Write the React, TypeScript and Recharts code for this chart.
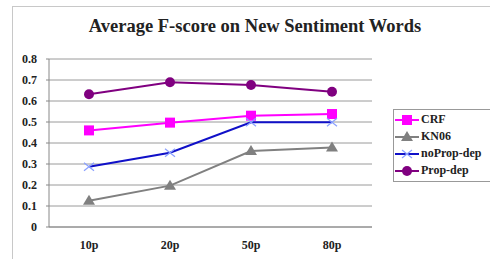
import React from 'react';
import { LineChart, Line, XAxis, YAxis, CartesianGrid } from 'recharts';

const categories = ['10p', '20p', '50p', '80p'];
const crf = [0.46, 0.497, 0.53, 0.538];
const kn06 = [0.125, 0.197, 0.362, 0.378];
const noPropDep = [0.287, 0.354, 0.499, 0.499];
const propDep = [0.632, 0.689, 0.676, 0.644];
const yTicks = [0, 0.1, 0.2, 0.3, 0.4, 0.5, 0.6, 0.7, 0.8];

const data = categories.map((name, i) => ({
  name,
  crf: crf[i],
  kn06: kn06[i],
  noPropDep: noPropDep[i],
  propDep: propDep[i],
}));

const FONT = '"Liberation Serif", "Times New Roman", serif';

const series = [
  { key: 'crf', label: 'CRF', color: '#ff00ff', marker: 'square' },
  { key: 'kn06', label: 'KN06', color: '#808080', marker: 'triangle' },
  { key: 'noPropDep', label: 'noProp-dep', color: '#1010c8', marker: 'cross' },
  { key: 'propDep', label: 'Prop-dep', color: '#800080', marker: 'circle' },
];

const Marker = ({ type, cx, cy, color }: { type: string; cx: number; cy: number; color: string }) => {
  if (cx == null || cy == null) return null;
  if (type === 'square') return <rect x={cx - 5} y={cy - 5} width={10} height={10} fill={color} />;
  if (type === 'triangle')
    return <polygon points={`${cx},${cy - 6} ${cx + 6},${cy + 4} ${cx - 6},${cy + 4}`} fill={color} />;
  if (type === 'cross')
    return (
      <g stroke="#8aa0ff" strokeWidth={1.2}>
        <line x1={cx - 5} y1={cy - 4} x2={cx + 5} y2={cy + 4} />
        <line x1={cx - 5} y1={cy + 4} x2={cx + 5} y2={cy - 4} />
      </g>
    );
  return <circle cx={cx} cy={cy} r={5} fill={color} />;
};

const LegendBox = () => (
  <div
    style={{
      position: 'absolute',
      left: 393,
      top: 109,
      border: '1px solid #999',
      background: '#fff',
      width: 110,
      padding: '1px 0 2px 0',
      fontFamily: FONT,
      fontWeight: 'bold',
      fontSize: 12,
      color: '#222',
    }}
  >
    {series.map((s) => (
      <div key={s.key} style={{ display: 'flex', alignItems: 'center', height: 17 }}>
        <svg width={26} height={14} style={{ marginLeft: 1 }}>
          <line x1={0} y1={7} x2={24} y2={7} stroke={s.color} strokeWidth={2} />
          <Marker type={s.marker} cx={12} cy={7} color={s.color} />
        </svg>
        <span>{s.label}</span>
      </div>
    ))}
  </div>
);

export default function App() {
  return (
    <div style={{ position: 'absolute', left: 0, top: 0, width: 490, height: 259, overflow: 'hidden', background: '#fff' }}>
      <div
        style={{
          position: 'absolute',
          left: 12,
          top: 6,
          width: 500,
          height: 300,
          border: '1px solid #c8c8c8',
        }}
      />
      <div
        style={{
          position: 'absolute',
          left: 0,
          top: 16,
          width: 510,
          textAlign: 'center',
          fontFamily: FONT,
          fontWeight: 'bold',
          fontSize: 18.5,
          color: '#222',
        }}
      >
        Average F-score on New Sentiment Words
      </div>
      <LineChart
        width={490}
        height={259}
        data={data}
        margin={{ top: 59, right: 118, bottom: 0, left: 0 }}
        style={{ position: 'absolute', left: 0, top: 0 }}
      >
        <CartesianGrid vertical={false} stroke="#9a9a9a" />
        <XAxis
          xAxisId="marks"
          type="number"
          domain={[0, 4]}
          ticks={[1, 2, 3]}
          tick={false}
          axisLine={false}
          tickLine={{ stroke: '#888' }}
          tickSize={4}
          mirror
          height={0}
        />
        <XAxis
          dataKey="name"
          padding={{ left: 40, right: 40 }}
          height={32}
          tickLine={false}
          tickSize={0}
          tickMargin={13}
          axisLine={{ stroke: '#888' }}
          tick={{ fill: '#222', fontFamily: FONT, fontWeight: 'bold', fontSize: 12 }}
        />
        <YAxis
          domain={[0, 0.8]}
          ticks={yTicks}
          interval={0}
          width={49}
          tickSize={3}
          tickMargin={9}
          axisLine={{ stroke: '#888' }}
          tickLine={{ stroke: '#888' }}
          tickFormatter={(v: number) => (v === 0 ? '0' : v.toFixed(1))}
          tick={{ fill: '#222', fontFamily: FONT, fontWeight: 'bold', fontSize: 12 }}
        />
        <YAxis
          yAxisId="r"
          orientation="right"
          domain={[0, 0.8]}
          width={0}
          tick={false}
          tickLine={false}
          axisLine={{ stroke: '#888' }}
        />
        {series.map((s) => (
          <Line
            key={s.key}
            dataKey={s.key}
            stroke={s.color}
            strokeWidth={2}
            isAnimationActive={false}
            dot={(p: any) => <Marker key={`${s.key}-${p.index}`} type={s.marker} cx={p.cx} cy={p.cy} color={s.color} />}
          />
        ))}
      </LineChart>
      <LegendBox />
    </div>
  );
}
